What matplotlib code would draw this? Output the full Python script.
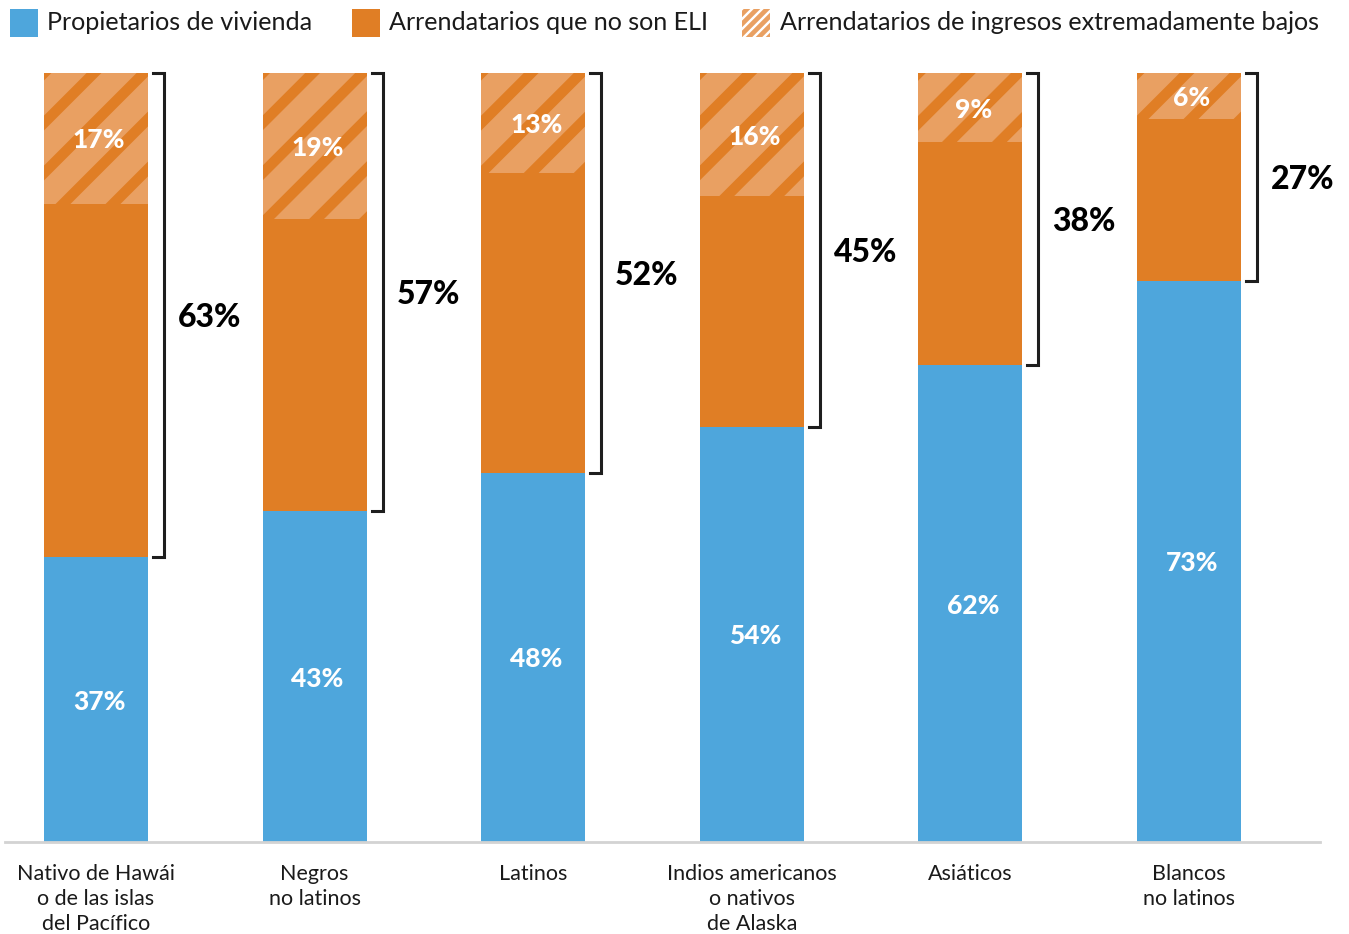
import matplotlib
matplotlib.use("Agg")
import matplotlib.pyplot as plt
from matplotlib.patches import Rectangle
from matplotlib.lines import Line2D
import matplotlib.transforms as mtransforms

# Data (percent of households)
categories = [
    "Nativo de Hawái\no de las islas\ndel Pacífico",
    "Negros\nno latinos",
    "Latinos",
    "Indios americanos\no nativos\nde Alaska",
    "Asiáticos",
    "Blancos\nno latinos",
]
owners = [37, 43, 48, 54, 62, 73]
renters_total = [63, 57, 52, 45, 38, 27]
eli_renters = [17, 19, 13, 16, 9, 6]
non_eli_renters = [46, 38, 39, 30, 29, 21]

legend_labels = [
    "Propietarios de vivienda",
    "Arrendatarios que no son ELI",
    "Arrendatarios de ingresos extremadamente bajos",
]

BLUE = "#4EA6DC"
ORANGE = "#E07E25"
LIGHT_ORANGE = "#E9A062"
DARK = "#1E1E1E"
TEXT = "#1A1A1A"

plt.rcParams["font.family"] = ["Lato", "DejaVu Sans"]

W, H = 1349, 934
fig = plt.figure(figsize=(W / 100, H / 100), dpi=100)
ax = fig.add_axes([5 / W, (H - 842) / H, (1320 - 5) / W, (842 - 73) / H])

step = 218.6
x = list(range(len(categories)))
width = 104 / step

ax.set_xlim(-(96 - 5) / step, (1320 - 96) / step)
ax.set_ylim(0, 100)

ax.bar(x, owners, width=width, color=BLUE, linewidth=0)
ax.bar(x, non_eli_renters, width=width, bottom=owners, color=ORANGE, linewidth=0)
bottoms_eli = [o + n for o, n in zip(owners, non_eli_renters)]
eli_bars = ax.bar(x, eli_renters, width=width, bottom=bottoms_eli,
                  color=LIGHT_ORANGE, linewidth=0)


def add_stripes(container, patch, spacing, lw_px, color):
    """Draw 45-degree stripes (display space) clipped to a patch."""
    bb = patch.get_window_extent()
    x0, y0, x1, y1 = bb.x0, bb.y0, bb.x1, bb.y1
    h = y1 - y0
    c = x0 - h - spacing
    while c < x1 + spacing:
        ln = Line2D([c, c + h + 2 * spacing], [y0 - spacing, y1 + spacing],
                    transform=mtransforms.IdentityTransform(), color=color,
                    linewidth=lw_px * 72 / 100, solid_capstyle="butt")
        container.add_artist(ln)
        ln.set_clip_path(patch)
        c += spacing


for b in eli_bars:
    add_stripes(ax, b, 50, 10.5, ORANGE)

# value labels inside bars (nudged slightly right)
nudge = mtransforms.offset_copy(ax.transData, fig=fig, x=3, y=0, units="dots")
for i in x:
    ax.text(i, owners[i] / 2, f"{owners[i]}%", ha="center",
            va="center_baseline", color="white", fontsize=19,
            fontweight="black", transform=nudge)
    ax.text(i, bottoms_eli[i] + eli_renters[i] / 2, f"{eli_renters[i]}%",
            ha="center", va="center_baseline", color="white", fontsize=19,
            fontweight="black", transform=nudge)

# brackets spanning renter share
bx_off = (164 - 96) / step
tick = 11 / step
for i in x:
    y0, y1 = owners[i], 100
    bx = i + bx_off
    ax.plot([bx - tick, bx, bx, bx - tick], [y0, y0, y1, y1], color=DARK,
            linewidth=2.2, solid_joinstyle="miter", clip_on=False)
    ax.text(i + (178 - 96) / step, (y0 + y1) / 2, f"{renters_total[i]}%",
            ha="left", va="center_baseline", color="black", fontsize=23,
            fontweight="black")

# axes styling
for s in ["top", "right", "left"]:
    ax.spines[s].set_visible(False)
ax.spines["bottom"].set_color("#D3D3D3")
ax.spines["bottom"].set_linewidth(2)
ax.set_yticks([])
ax.set_xticks(x)
ax.set_xticklabels(categories, fontsize=15.5, fontweight="normal", color=TEXT,
                   linespacing=1.3)
ax.tick_params(axis="x", length=0, pad=16)


# legend drawn in figure pixels
def fig_rect(x0, y0, w, h, **kw):
    r = Rectangle((x0 / W, 1 - (y0 + h) / H), w / W, h / H,
                  transform=fig.transFigure, **kw)
    fig.add_artist(r)
    return r


fig_rect(10, 9, 28, 28, facecolor=BLUE, linewidth=0)
fig_rect(352, 9, 28, 28, facecolor=ORANGE, linewidth=0)
hatch_key = fig_rect(742, 9, 28, 28, facecolor=LIGHT_ORANGE, linewidth=0)
add_stripes(fig, hatch_key, 10, 2.4, "white")

for xt, lab in zip([47, 389, 780], legend_labels):
    fig.text(xt / W, 1 - 23 / H, lab, ha="left", va="center", fontsize=18.1,
             fontweight="normal", color=TEXT)

fig.savefig("out.png", dpi=100)
